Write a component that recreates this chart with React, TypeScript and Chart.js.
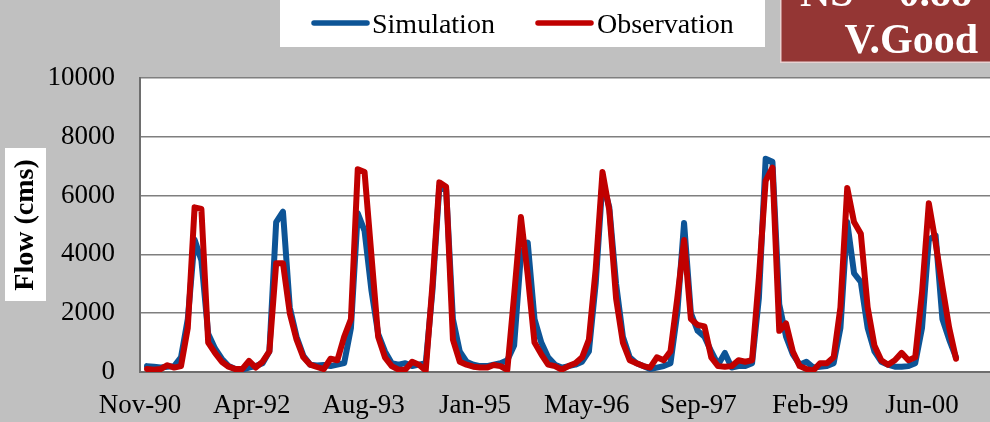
import React, { useEffect, useRef } from 'react';
import { Chart, registerables } from 'chart.js';

Chart.register(...registerables);

// Monthly flows, Nov-90 (index 0) to Oct-00 (index 119), in cms
const simulation: number[] = [
  200, 180, 150, 180, 200, 500, 1800, 4500, 3800, 1300, 800, 450,
  200, 100, 80, 150, 200, 300, 700, 5100, 5450, 2200, 1200, 550,
  250, 220, 240, 200, 250, 300, 1500, 5400, 4800, 2800, 1300, 700,
  300, 250, 300, 200, 250, 300, 2800, 6300, 6200, 1800, 700, 350,
  250, 200, 200, 250, 300, 400, 900, 4000, 4400, 1800, 1000, 500,
  250, 150, 200, 250, 350, 700, 3000, 6500, 5600, 3000, 1200, 500,
  300, 200, 100, 150, 200, 300, 2000, 5070, 2000, 1400, 1200, 700,
  250, 650, 150, 200, 200, 300, 2500, 7250, 7150, 2300, 1200, 600,
  250, 350, 150, 180, 200, 300, 1500, 5100, 3360, 3060, 1500, 700,
  350, 250, 180, 180, 200, 300, 1500, 4500, 4650, 1800, 1100, 500,
];

const observation: number[] = [
  100, 80, 100, 230, 150, 200, 1500, 5600, 5550, 1000, 650, 350,
  180, 100, 100, 380, 150, 350, 700, 3700, 3700, 2000, 1100, 500,
  250, 170, 100, 450, 400, 1200, 1800, 6900, 6800, 4000, 1200, 500,
  200, 80, 80, 350, 250, 50, 3000, 6450, 6300, 1100, 350, 250,
  180, 150, 150, 240, 200, 70, 2600, 5270, 3300, 1000, 600, 250,
  200, 80, 200, 300, 500, 1100, 3500, 6800, 5500, 2500, 1000, 400,
  300, 200, 150, 500, 400, 700, 2500, 4490, 1800, 1600, 1550, 500,
  200, 180, 200, 400, 350, 400, 3200, 6500, 6950, 1400, 1650, 700,
  200, 100, 50, 300, 300, 500, 2200, 6260, 5100, 4700, 2200, 900,
  400, 250, 400, 650, 400, 500, 2700, 5740, 4400, 2900, 1500, 450,
];

const xTickLabels: string[] = ['Nov-90', 'Apr-92', 'Aug-93', 'Jan-95', 'May-96', 'Sep-97', 'Feb-99', 'Jun-00'];
const yTickValues: number[] = [0, 2000, 4000, 6000, 8000, 10000];
const seriesNames: string[] = ['Simulation', 'Observation'];
const badgeLines: string[] = ['NS = 0.88', 'V.Good'];
const yAxisTitle = 'Flow (cms)';

const X_FIRST_TICK = -1.03; // month index of first date tick
const X_TICK_STEP = 16.43; // months between date ticks (500 days)
const X_MAX = 124;

const BLUE = '#0d5496';
const RED = '#c00000';
const BG = '#c0c0c0';
const FONT = "'Liberation Serif', 'Times New Roman', serif";

const decorPlugin = {
  id: 'decor',
  beforeDraw(chart: any) {
    const { ctx, chartArea, width, height } = chart;
    ctx.save();
    ctx.fillStyle = BG;
    ctx.fillRect(0, 0, width, height);
    ctx.fillStyle = '#ffffff';
    ctx.fillRect(chartArea.left, chartArea.top, chartArea.right - chartArea.left, chartArea.bottom - chartArea.top);
    // white box behind the y-axis title
    ctx.fillRect(5, 148, 41, 153);
    ctx.restore();
  },
  afterDraw(chart: any) {
    const { ctx } = chart;
    ctx.save();
    // legend box
    ctx.fillStyle = '#ffffff';
    ctx.fillRect(280, -2, 485, 49);
    const items = [
      { name: seriesNames[0], color: BLUE, x0: 314, x1: 367, tx: 372 },
      { name: seriesNames[1], color: RED, x0: 538, x1: 591, tx: 597 },
    ];
    ctx.lineCap = 'round';
    for (const it of items) {
      ctx.strokeStyle = it.color;
      ctx.lineWidth = 5.5;
      ctx.beginPath();
      ctx.moveTo(it.x0, 23);
      ctx.lineTo(it.x1, 23);
      ctx.stroke();
      ctx.fillStyle = '#000';
      ctx.font = `28px ${FONT}`;
      ctx.textAlign = 'left';
      ctx.textBaseline = 'alphabetic';
      ctx.fillText(it.name, it.tx, 33);
    }
    // NS badge
    ctx.fillStyle = '#943634';
    ctx.fillRect(780, -2, 215, 65);
    ctx.strokeStyle = '#e8d2d2';
    ctx.lineWidth = 1.5;
    ctx.strokeRect(780.75, -4, 220, 66.25);
    ctx.fillStyle = '#ffffff';
    ctx.font = `bold 42px ${FONT}`;
    ctx.textAlign = 'right';
    ctx.fillText(badgeLines[0], 972, 6);
    ctx.fillText(badgeLines[1], 978, 53);
    ctx.restore();
  },
};

export default function App() {
  const canvasRef = useRef<HTMLCanvasElement | null>(null);

  useEffect(() => {
    if (!canvasRef.current) return;
    const chart = new Chart(canvasRef.current, {
      type: 'line',
      data: {
        datasets: [
          {
            label: seriesNames[0],
            data: simulation.map((v, i) => ({ x: i, y: v })),
            borderColor: BLUE,
            backgroundColor: BLUE,
            borderWidth: 6,
            pointRadius: 0,
            tension: 0,
            borderJoinStyle: 'round',
            borderCapStyle: 'round',
            order: 2,
          },
          {
            label: seriesNames[1],
            data: observation.map((v, i) => ({ x: i, y: v })),
            borderColor: RED,
            backgroundColor: RED,
            borderWidth: 6,
            pointRadius: 0,
            tension: 0,
            borderJoinStyle: 'round',
            borderCapStyle: 'round',
            order: 1,
          },
        ],
      },
      options: {
        animation: false,
        responsive: false,
        maintainAspectRatio: false,
        layout: { padding: { top: 78, left: 0, right: 0, bottom: 0 } },
        plugins: {
          legend: { display: false },
          tooltip: { enabled: false },
        },
        scales: {
          x: {
            type: 'linear',
            min: X_FIRST_TICK,
            max: X_MAX,
            afterBuildTicks: (axis: any) => {
              axis.ticks = xTickLabels.map((_, k) => ({ value: X_FIRST_TICK + k * X_TICK_STEP }));
            },
            afterFit: (axis: any) => {
              axis.height = 50;
            },
            ticks: {
              autoSkip: false,
              maxRotation: 0,
              minRotation: 0,
              padding: 18,
              color: '#000',
              font: { family: FONT, size: 27 },
              callback: (_v: any, i: number) => xTickLabels[i],
            },
            grid: { display: false, drawTicks: false },
            border: { display: true, color: '#6e6e6e', width: 2 },
          },
          y: {
            type: 'linear',
            min: 0,
            max: 10000,
            afterBuildTicks: (axis: any) => {
              axis.ticks = yTickValues.map((v) => ({ value: v }));
            },
            afterFit: (axis: any) => {
              axis.width = 140;
            },
            ticks: {
              padding: 25,
              color: '#000',
              font: { family: FONT, size: 27 },
              callback: (v: any) => String(v),
            },
            grid: { color: '#7f7f7f', lineWidth: 1.5, drawTicks: false },
            border: { display: true, color: '#6e6e6e', width: 2 },
            title: {
              display: true,
              text: yAxisTitle,
              color: '#000',
              font: { family: FONT, size: 28, weight: 'bold' },
              padding: { top: 9, bottom: 0 },
            },
          },
        },
      },
      plugins: [decorPlugin],
    } as any);
    return () => chart.destroy();
  }, []);

  return (
    <div style={{ position: 'fixed', left: 0, top: 0, width: 990, height: 422, background: BG }}>
      <canvas ref={canvasRef} width={990} height={422} style={{ display: 'block' }} />
    </div>
  );
}
